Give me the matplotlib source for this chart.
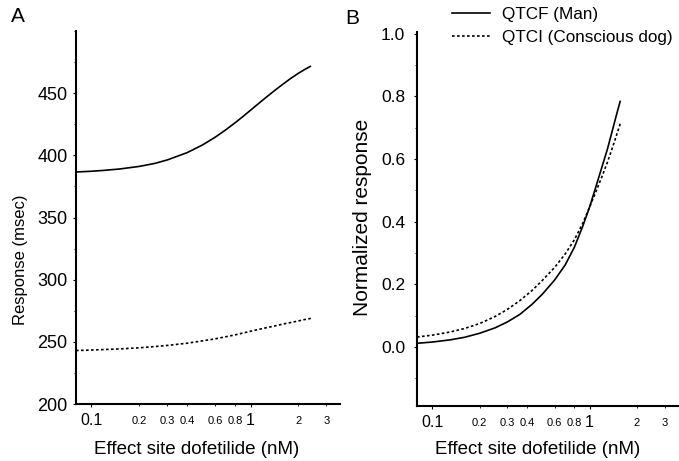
import matplotlib
matplotlib.use('Agg')
import matplotlib.pyplot as plt
from matplotlib.lines import Line2D

plt.rcParams['font.family'] = ['Liberation Sans', 'DejaVu Sans']

# ---- data ----
conc_a = [0.08, 0.1, 0.12, 0.15, 0.2, 0.25, 0.3, 0.4, 0.5, 0.6, 0.7, 0.8,
          0.9, 1.0, 1.2, 1.4, 1.6, 1.8, 2.0, 2.2, 2.4]
man_msec = [386.6, 387.2, 387.9, 389.0, 391.1, 393.5, 396.3, 402.2, 408.4,
            414.6, 420.6, 426.2, 431.4, 436.3, 444.7, 451.6, 457.3, 462.1,
            466.0, 469.2, 471.8]
dog_msec = [243.0, 243.4, 243.8, 244.3, 245.2, 246.2, 247.1, 248.9, 250.8,
            252.4, 254.1, 255.6, 257.1, 258.5, 260.8, 262.6, 264.3, 265.6,
            266.8, 268.0, 268.9]

conc_b = [0.08, 0.1, 0.13, 0.16, 0.2, 0.25, 0.3, 0.36, 0.43, 0.5, 0.6, 0.7,
          0.8, 0.9, 1.0, 1.1, 1.2, 1.3, 1.4, 1.5, 1.57]
man_norm = [0.012, 0.016, 0.023, 0.031, 0.044, 0.061, 0.080, 0.104, 0.136,
            0.168, 0.214, 0.262, 0.318, 0.382, 0.446, 0.513, 0.575, 0.632,
            0.693, 0.750, 0.786]
dog_norm = [0.032, 0.038, 0.048, 0.059, 0.075, 0.097, 0.120, 0.148, 0.180,
            0.212, 0.254, 0.297, 0.342, 0.392, 0.446, 0.497, 0.544, 0.590,
            0.637, 0.683, 0.714]

major_x = [0.1, 1]
major_x_labels = ['0.1', '1']
minor_x = [0.2, 0.3, 0.4, 0.6, 0.8, 2, 3]
minor_x_labels = ['0.2', '0.3', '0.4', '0.6', '0.8', '2', '3']
a_yticks = [200, 250, 300, 350, 400, 450]
a_yminor = [225, 275, 325, 375, 425, 475, 500]
b_yticks = [0.0, 0.2, 0.4, 0.6, 0.8, 1.0]
b_yminor = [-0.1, 0.1, 0.3, 0.5, 0.7, 0.9]

legend_labels = ['QTCF (Man)', 'QTCI (Conscious dog)']

W, H = 679, 461
fig = plt.figure(figsize=(W / 100, H / 100), dpi=100)

def px_axes(l, r, t, b):
    return fig.add_axes([l / W, 1 - b / H, (r - l) / W, (b - t) / H])

axA = px_axes(76, 340, 31, 404)
axB = px_axes(417, 678, 32, 406)

dotted = (0, (1.6, 1.4))

axA.plot(conc_a, man_msec, color='black', lw=1.2, solid_capstyle='butt')
axA.plot(conc_a, dog_msec, color='black', lw=1.2, linestyle=dotted)
axB.plot(conc_b, man_norm, color='black', lw=1.2, solid_capstyle='butt')
axB.plot(conc_b, dog_norm, color='black', lw=1.2, linestyle=dotted)

for ax in (axA, axB):
    ax.set_xscale('log')
    ax.set_xlim(0.08, 3.65)
    for s in ('top', 'right'):
        ax.spines[s].set_visible(False)
    for s in ('left', 'bottom'):
        ax.spines[s].set_linewidth(1.5)
    ax.set_xticks(major_x)
    ax.set_xticklabels(major_x_labels)
    ax.set_xticks(minor_x, minor=True)
    ax.set_xticklabels(minor_x_labels, minor=True)
    ax.tick_params(axis='x', which='major', direction='out', length=2.5,
                   width=0.8, labelsize=11.5, pad=4.0)
    ax.tick_params(axis='x', which='minor', direction='out', length=1.5,
                   width=0.6, labelsize=8, pad=7.0)
    ax.tick_params(axis='y', which='minor', direction='out', length=1.5,
                   width=0.6)
    ax.set_facecolor('none')

axA.set_ylim(200, 500)
axA.set_yticks(a_yticks)
axA.set_yticks(a_yminor, minor=True)
axA.tick_params(axis='y', which='major', direction='out', length=2.5,
                width=0.8, labelsize=13, pad=3.5)

axB.set_ylim(-0.188, 1.005)
axB.set_yticks(b_yticks)
axB.set_yticklabels(['%.1f' % v for v in b_yticks])
axB.set_yticks(b_yminor, minor=True)
axB.tick_params(axis='y', which='major', direction='out', length=2.5,
                width=0.8, labelsize=12.5, pad=6)

for ax, cx, bot, top in ((axA, 197, 404, 31), (axB, 538, 406, 32)):
    ax.set_xlabel('Effect site dofetilide (nM)', fontsize=13.5)
    l = ax.get_position().x0 * W
    w = ax.get_position().width * W
    ax.xaxis.set_label_coords((cx - l) / w, (bot - 441) / (bot - top))

axA.set_ylabel('Response (msec)', fontsize=12)
axA.yaxis.set_label_coords((21 - 76) / (340 - 76), (404 - 260) / (404 - 31))
axA.yaxis.label.set_va('center')
axB.set_ylabel('Normalized response', fontsize=15)
axB.yaxis.set_label_coords((362 - 417) / (678 - 417), (406 - 217) / (406 - 32))
axB.yaxis.label.set_va('center')

fig.text(11 / W, 1 - 17 / H, 'A', fontsize=15, va='center', ha='left')
fig.text(345 / W, 1 - 19 / H, 'B', fontsize=15, va='center', ha='left')

handles = [Line2D([], [], color='black', lw=1.2),
           Line2D([], [], color='black', lw=1.2, linestyle=dotted)]
fig.legend(handles, legend_labels, loc='upper left',
           bbox_to_anchor=(452 / W, 1 - 7 / H), frameon=False,
           fontsize=12.3, handlelength=2.2, handletextpad=0.7,
           labelspacing=0.45, borderpad=0, borderaxespad=0)

fig.savefig('out.png', dpi=100)
